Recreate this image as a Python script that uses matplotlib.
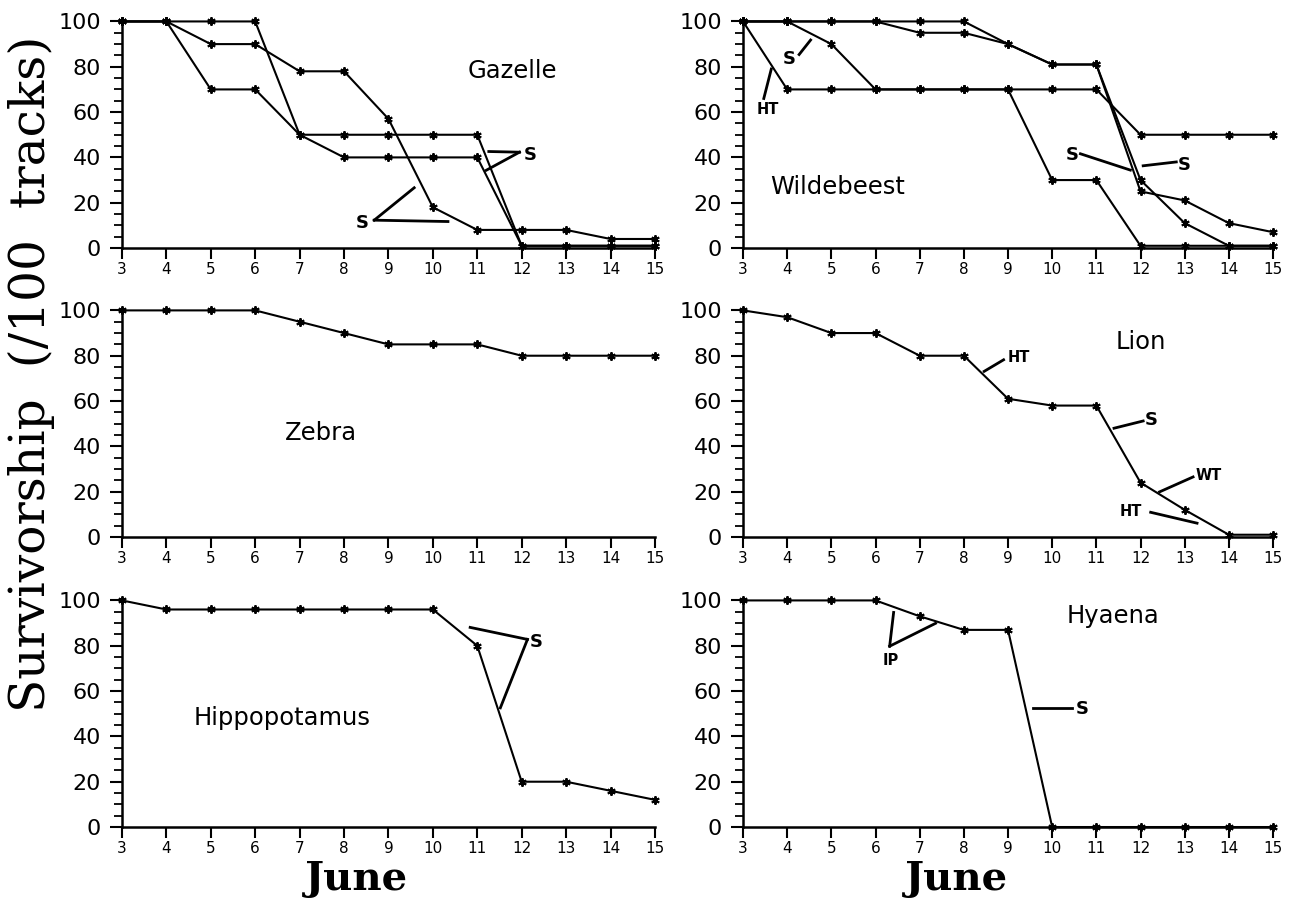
import numpy as np
import matplotlib.pyplot as plt
from matplotlib.ticker import MultipleLocator

# days in June
days = [3, 4, 5, 6, 7, 8, 9, 10, 11, 12, 13, 14, 15]

gazelle_a = [100, 100, 100, 100, 50, 50, 50, 50, 50, 1, 1, 1, 1]
gazelle_b = [100, 100, 90, 90, 78, 78, 57, 18, 8, 8, 8, 4, 4]
gazelle_c = [100, 100, 70, 70, 50, 40, 40, 40, 40, 1, 1, 1, 1]

wildebeest_a = [100, 100, 100, 100, 100, 100, 90, 81, 81, 30, 11, 1, 1]
wildebeest_b = [100, 100, 100, 100, 95, 95, 90, 81, 81, 25, 21, 11, 7]
wildebeest_c = [100, 100, 90, 70, 70, 70, 70, 70, 70, 50, 50, 50, 50]
wildebeest_d = [100, 70, 70, 70, 70, 70, 70, 30, 30, 1, 1, 1, 1]

zebra = [100, 100, 100, 100, 95, 90, 85, 85, 85, 80, 80, 80, 80]
lion = [100, 97, 90, 90, 80, 80, 61, 58, 58, 24, 12, 1, 1]
hippo = [100, 96, 96, 96, 96, 96, 96, 96, 80, 20, 20, 16, 12]
hyaena = [100, 100, 100, 100, 93, 87, 87, 0, 0, 0, 0, 0, 0]

y_ticks = [0, 20, 40, 60, 80, 100]

plt.rcParams['font.family'] = ['DejaVu Sans']

fig = plt.figure(figsize=(12.92, 9.01), dpi=100)

col_x = [0.0944, 0.5751]
col_w = [0.4125, 0.4102]
row_y = [0.7247, 0.404, 0.0821]
row_h = 0.2515

NAME_SIZE = 17.5


def make_axes(row, col):
    ax = fig.add_axes([col_x[col], row_y[row], col_w[col], row_h])
    ax.set_xlim(3, 15)
    ax.set_ylim(0, 100)
    for side in ["top", "right"]:
        ax.spines[side].set_visible(False)
    for side in ["left", "bottom"]:
        ax.spines[side].set_linewidth(1.8)
    ax.set_xticks(days)
    ax.set_yticks(y_ticks)
    ax.yaxis.set_minor_locator(MultipleLocator(5))
    ax.tick_params(axis="y", which="major", direction="out", length=9,
                   width=1.5, labelsize=16, pad=6)
    ax.tick_params(axis="y", which="minor", direction="out", length=6,
                   width=1.3)
    ax.tick_params(axis="x", which="major", direction="out", length=8,
                   width=1.5, labelsize=11, pad=2)
    return ax


def series(ax, vals):
    ax.plot(days, vals, color="black", lw=1.5, marker=(6, 2, 0), ms=6,
            mew=1.4, clip_on=False, zorder=3)


def note(ax, text, tx, ty, segs, size=13, bold=True):
    ax.text(tx, ty, text, fontsize=size, ha="center", va="center",
            fontweight="bold" if bold else "normal")
    for (x0, y0, x1, y1) in segs:
        ax.plot([x0, x1], [y0, y1], color="black", lw=2, clip_on=False)


# Gazelle
ax = make_axes(0, 0)
for v in [gazelle_a, gazelle_b, gazelle_c]:
    series(ax, v)
ax.text(11.8, 78, "Gazelle", fontsize=NAME_SIZE, ha="center", va="center")
note(ax, "S", 12.2, 41.2, [(11.95, 42.3, 11.26, 42.6), (11.95, 42.3, 11.2, 34.3)])
note(ax, "S", 8.42, 11.2, [(8.68, 12.3, 9.58, 26.6), (8.68, 12.3, 10.34, 11.7)])

# Wildebeest
ax = make_axes(0, 1)
for v in [wildebeest_a, wildebeest_b, wildebeest_c, wildebeest_d]:
    series(ax, v)
ax.text(5.15, 27, "Wildebeest", fontsize=NAME_SIZE, ha="center", va="center")
note(ax, "S", 4.05, 83.5, [(4.27, 85.4, 4.53, 91.8)])
note(ax, "HT", 3.55, 61, [(3.47, 66, 3.64, 79)], size=10.5)
note(ax, "S", 10.45, 41, [(10.64, 41.6, 11.77, 34.4)])
note(ax, "S", 13.0, 36.6, [(12.81, 38, 12.06, 36.3)])

# Zebra
ax = make_axes(1, 0)
series(ax, zebra)
ax.text(7.48, 46, "Zebra", fontsize=NAME_SIZE, ha="center", va="center")

# Lion
ax = make_axes(1, 1)
series(ax, lion)
ax.text(12.0, 86, "Lion", fontsize=NAME_SIZE, ha="center", va="center")
note(ax, "HT", 9.25, 79.2, [(8.9, 78.2, 8.46, 73.1)], size=10.5)
note(ax, "S", 12.25, 51.5, [(12.06, 51.2, 11.4, 48.0)])
note(ax, "WT", 13.55, 27.2, [(13.19, 26.5, 12.43, 19.9)], size=10.5)
note(ax, "HT", 11.78, 11.2, [(12.23, 10.9, 13.28, 6.1)], size=10.5)

# Hippopotamus
ax = make_axes(2, 0)
series(ax, hippo)
ax.text(6.6, 48, "Hippopotamus", fontsize=NAME_SIZE, ha="center", va="center")
note(ax, "S", 12.32, 81.6, [(12.13, 82.8, 10.84, 88.1), (12.13, 82.8, 11.52, 52.6)])

# Hyaena
ax = make_axes(2, 1)
series(ax, hyaena)
ax.text(11.38, 93, "Hyaena", fontsize=NAME_SIZE, ha="center", va="center")
note(ax, "IP", 6.34, 73.5, [(6.32, 79.8, 6.41, 94.7), (6.32, 79.8, 7.36, 89.9)], size=10.5)
note(ax, "S", 10.67, 52, [(9.56, 52.7, 10.44, 52.7)])

fig.text(0.024, 0.585, "Survivorship  (/100  tracks)", rotation=90,
         ha="center", va="center", fontsize=35, family="DejaVu Serif")
fig.text(0.276, 0.024, "June", ha="center", va="center", fontsize=29,
         family="DejaVu Serif", fontweight="bold")
fig.text(0.740, 0.024, "June", ha="center", va="center", fontsize=29,
         family="DejaVu Serif", fontweight="bold")

fig.savefig("out.png", dpi=100)
